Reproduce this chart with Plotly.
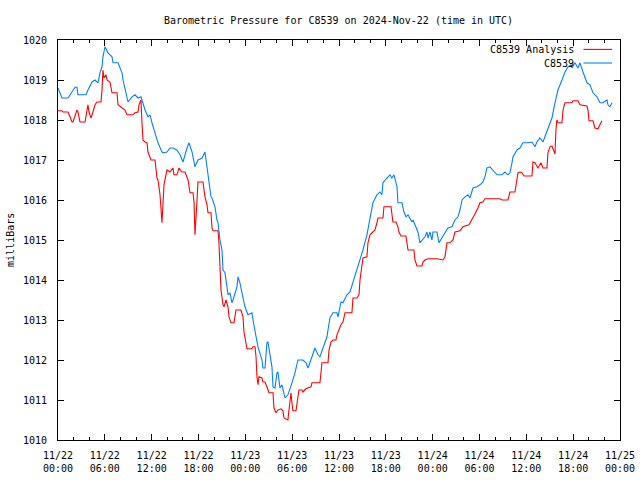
import plotly.graph_objects as go
import pandas as pd

# Hours after 2024-11-22 00:00 UTC and pressure (mb) for station observations (C8539)
obs_hours = [0, 0.51, 1.28, 1.54, 2.18, 2.43, 2.56, 3.59, 3.84, 4.36, 4.74, 5.12, 5.38, 5.64, 5.76, 6.02,
             6.41, 6.92, 7.05, 7.69, 8.2, 8.33, 8.58, 8.97, 9.48, 9.86, 10.25, 10.63, 10.76, 11.15, 11.53,
             11.79, 12.04, 12.43, 12.81, 13.32, 13.45, 13.96, 14.35, 14.73, 15.24, 15.63, 16.01, 16.53,
             16.78, 17.17, 17.55, 17.93, 18.45, 18.83, 19.09, 19.34, 19.6, 19.73, 20.11, 20.37, 20.5,
             20.75, 21.01, 21.14, 21.39, 21.65, 21.78, 22.03, 22.29, 22.42, 22.93, 23.06, 23.31, 23.57,
             23.95, 24.34, 24.85, 24.98, 25.24, 25.62, 26.13, 26.26, 26.52, 26.77, 26.9, 27.16, 27.41,
             27.54, 27.8, 28.05, 28.18, 28.44, 28.69, 29.08, 29.46, 29.97, 30.36, 30.74, 31.38, 31.77,
             32.03, 32.54, 32.92, 33.31, 33.56, 33.95, 34.46, 34.59, 34.84, 35.23, 35.74, 35.87, 36.25,
             36.51, 37.02, 37.41, 37.79, 38.3, 38.69, 39.07, 39.58, 39.97, 40.35, 40.86, 41.25, 41.5,
             41.63, 42.14, 42.53, 42.78, 43.04, 43.43, 43.55, 44.07, 44.32, 44.58, 44.84, 45.35, 45.48,
             45.73, 46.12, 46.37, 46.63, 47.01, 47.27, 47.4, 47.65, 47.91, 48.04, 48.55, 48.81, 49.19,
             49.58, 49.96, 50.47, 50.86, 51.24, 51.5, 51.76, 52.14, 52.52, 52.78, 53.16, 53.67, 54.06,
             54.44, 54.7, 54.95, 55.34, 55.72, 56.24, 56.88, 57.26, 57.65, 57.9, 58.16, 58.29, 58.8,
             59.18, 59.57, 60.21, 60.72, 61.1, 61.36, 61.74, 62.13, 62.39, 62.77, 63.28, 63.67, 64.05,
             64.57, 64.95, 65.34, 65.72, 65.85, 66.23, 66.62, 66.87, 67.26, 67.77, 68.15, 68.54, 69.05,
             69.43, 69.82, 70.33, 70.46, 70.71, 70.97]
obs_mb = [1018.8, 1018.55, 1018.55, 1018.63, 1018.82, 1018.82, 1018.63, 1018.63, 1018.75, 1018.95, 1019.0,
          1018.93, 1019.18, 1019.33, 1019.58, 1019.83, 1019.68, 1019.58, 1019.43, 1019.43, 1019.18, 1019.0,
          1018.8, 1018.45, 1018.58, 1018.63, 1018.55, 1018.58, 1018.5, 1018.25, 1018.08, 1018.13, 1017.93,
          1017.68, 1017.43, 1017.2, 1017.18, 1017.2, 1017.3, 1017.3, 1017.25, 1017.13, 1016.95, 1017.3,
          1017.43, 1017.2, 1016.83, 1017.0, 1017.05, 1017.2, 1016.83, 1016.5, 1016.08, 1016.05, 1015.83,
          1015.5, 1015.43, 1015.0, 1014.75, 1014.25, 1014.18, 1013.83, 1013.63, 1013.68, 1013.43, 1013.5,
          1013.83, 1014.08, 1013.93, 1013.68, 1013.33, 1013.13, 1013.18, 1013.0, 1012.75, 1012.33, 1012.0,
          1011.8, 1011.8, 1012.43, 1012.45, 1012.08, 1011.83, 1011.33, 1011.3, 1011.68, 1011.7, 1011.3,
          1011.38, 1011.05, 1011.13, 1011.43, 1011.68, 1012.0, 1012.0, 1011.93, 1011.8, 1012.08, 1012.3,
          1012.13, 1012.08, 1012.3, 1012.58, 1012.75, 1013.05, 1013.18, 1013.18, 1013.08, 1013.45, 1013.43,
          1013.63, 1013.7, 1013.93, 1014.25, 1014.5, 1014.75, 1015.13, 1015.5, 1015.93, 1016.13, 1016.2,
          1016.13, 1016.43, 1016.55, 1016.63, 1016.55, 1016.63, 1016.33, 1015.93, 1015.93, 1015.7, 1015.58,
          1015.63, 1015.45, 1015.5, 1015.38, 1015.2, 1014.93, 1015.0, 1015.08, 1015.2, 1015.05, 1015.2,
          1015.0, 1015.2, 1015.2, 1014.93, 1015.05, 1015.2, 1015.3, 1015.33, 1015.5, 1015.58, 1015.75,
          1016.0, 1016.08, 1016.13, 1016.05, 1016.3, 1016.33, 1016.38, 1016.45, 1016.58, 1016.8, 1016.83,
          1016.75, 1016.63, 1016.63, 1016.7, 1016.63, 1016.68, 1016.93, 1017.08, 1017.25, 1017.3, 1017.43,
          1017.43, 1017.45, 1017.33, 1017.45, 1017.55, 1017.45, 1017.58, 1017.75, 1018.05, 1018.43,
          1018.75, 1019.0, 1019.2, 1019.33, 1019.38, 1019.3, 1019.43, 1019.3, 1019.43, 1019.2, 1018.93,
          1018.88, 1018.68, 1018.58, 1018.43, 1018.43, 1018.5, 1018.38, 1018.33, 1018.43]

# Hours after 2024-11-22 00:00 UTC and pressure (mb) for the analysis (C8539 Analysis)
ana_hours = [0, 0.51, 0.64, 1.28, 1.54, 1.79, 1.92, 2.18, 2.43, 2.56, 2.82, 3.46, 3.71, 3.84, 3.97, 4.23,
             4.48, 4.74, 5.0, 5.51, 5.64, 5.76, 5.89, 6.15, 6.28, 6.66, 6.92, 7.56, 7.69, 8.58, 8.84, 9.61,
             9.86, 10.25, 10.38, 10.63, 10.76, 10.89, 11.15, 11.4, 11.53, 11.91, 12.43, 12.68, 12.81, 13.07,
             13.32, 13.45, 13.58, 13.83, 13.96, 14.35, 14.73, 14.86, 15.24, 15.5, 15.88, 16.27, 16.53,
             16.66, 16.91, 17.3, 17.43, 17.55, 17.81, 17.93, 18.57, 18.83, 19.09, 19.22, 19.6, 19.73,
             19.86, 20.5, 20.62, 20.75, 20.88, 21.14, 21.27, 21.52, 21.78, 21.91, 22.16, 22.55, 22.8,
             23.44, 23.7, 23.83, 24.08, 24.21, 24.85, 24.98, 25.24, 25.37, 25.49, 25.62, 25.75, 26.13,
             26.26, 26.52, 26.77, 27.03, 27.54, 27.67, 27.93, 28.18, 28.57, 28.82, 28.95, 29.33, 29.46,
             29.59, 29.85, 29.97, 30.1, 30.49, 30.74, 30.87, 31.26, 31.38, 31.77, 32.03, 32.41, 32.54,
             33.56, 33.82, 34.59, 34.72, 34.97, 35.23, 35.61, 35.74, 36.0, 36.25, 36.51, 36.77, 37.66,
             37.79, 38.3, 38.56, 38.69, 38.94, 39.07, 39.58, 39.71, 39.97, 40.35, 40.61, 40.86, 40.99,
             41.63, 41.76, 42.66, 42.78, 42.91, 43.3, 43.55, 43.68, 43.94, 44.58, 44.71, 44.84, 45.6,
             45.73, 45.99, 46.63, 46.76, 47.01, 47.4, 48.55, 49.32, 49.58, 49.83, 50.22, 50.6, 50.86,
             51.5, 51.76, 51.88, 52.65, 53.03, 53.42, 53.8, 54.06, 54.44, 54.7, 56.62, 56.88, 57.65,
             57.9, 58.54, 58.8, 58.93, 59.18, 59.44, 59.7, 60.72, 60.85, 61.1, 61.49, 61.87, 62.13,
             62.64, 62.77, 63.03, 63.28, 63.54, 63.67, 63.79, 63.92, 64.05, 64.57, 64.7, 64.95, 65.85,
             65.98, 66.62, 66.87, 67.77, 67.9, 68.03, 68.54, 68.79, 69.18, 69.43, 69.69]
ana_mb = [1018.23, 1018.23, 1018.2, 1018.2, 1018.08, 1017.95, 1017.95, 1018.13, 1018.25, 1018.2, 1017.95,
          1017.95, 1018.25, 1018.38, 1018.2, 1018.05, 1018.2, 1018.38, 1018.45, 1018.45, 1018.75, 1019.25,
          1019.05, 1019.13, 1019.0, 1018.95, 1018.68, 1018.68, 1018.38, 1018.25, 1018.13, 1018.13, 1018.18,
          1018.2, 1018.38, 1018.5, 1017.93, 1017.5, 1017.45, 1017.43, 1017.2, 1017.0, 1017.0, 1016.55,
          1016.5, 1016.13, 1015.43, 1016.13, 1016.38, 1016.63, 1016.75, 1016.7, 1016.8, 1016.63, 1016.63,
          1016.8, 1016.7, 1016.7, 1016.58, 1016.5, 1016.18, 1016.18, 1015.93, 1015.13, 1016.0, 1016.45,
          1016.45, 1016.08, 1015.88, 1015.68, 1015.68, 1015.3, 1015.23, 1015.23, 1014.93, 1014.25, 1013.75,
          1013.38, 1013.33, 1013.5, 1013.33, 1013.08, 1012.93, 1012.93, 1013.25, 1013.25, 1013.08, 1012.7,
          1012.43, 1012.28, 1012.28, 1012.33, 1012.33, 1012.08, 1011.58, 1011.38, 1011.58, 1011.55, 1011.45,
          1011.45, 1011.33, 1011.18, 1011.18, 1010.8, 1010.68, 1010.75, 1010.78, 1010.73, 1010.55, 1010.5,
          1010.5, 1010.75, 1011.18, 1010.93, 1010.73, 1010.73, 1011.08, 1011.25, 1011.25, 1011.2, 1011.28,
          1011.3, 1011.33, 1011.43, 1011.43, 1011.93, 1011.93, 1012.25, 1012.45, 1012.5, 1012.5, 1012.63,
          1012.75, 1012.88, 1012.95, 1013.18, 1013.18, 1013.55, 1013.55, 1013.63, 1014.0, 1014.3, 1014.55,
          1014.58, 1014.93, 1015.13, 1015.2, 1015.25, 1015.43, 1015.55, 1015.55, 1015.83, 1015.83, 1015.63,
          1015.45, 1015.45, 1015.33, 1015.2, 1015.1, 1015.1, 1014.95, 1014.75, 1014.75, 1014.5, 1014.35,
          1014.35, 1014.45, 1014.5, 1014.53, 1014.53, 1014.5, 1014.58, 1014.93, 1014.93, 1015.0, 1015.2,
          1015.23, 1015.3, 1015.33, 1015.38, 1015.5, 1015.65, 1015.8, 1015.93, 1015.95, 1016.03, 1016.03,
          1016.0, 1016.0, 1016.2, 1016.2, 1016.5, 1016.68, 1016.7, 1016.68, 1016.6, 1016.6, 1016.95,
          1016.93, 1016.8, 1016.93, 1016.8, 1016.8, 1017.18, 1017.33, 1017.35, 1017.18, 1017.15, 1017.75,
          1018.0, 1017.93, 1017.93, 1018.25, 1018.43, 1018.43, 1018.48, 1018.48, 1018.38, 1018.35, 1018.25,
          1017.98, 1017.98, 1017.8, 1017.78, 1017.88, 1017.98]

series_names = ["C8539 Analysis", "C8539"]
series_colors = ["#ff0000", "#0080ff"]

start = pd.Timestamp("2024-11-22 00:00")
obs_t = [start + pd.Timedelta(hours=h) for h in obs_hours]
ana_t = [start + pd.Timedelta(hours=h) for h in ana_hours]

FONT = "DejaVu Sans Mono"

fig = go.Figure()
fig.add_trace(go.Scatter(x=ana_t, y=ana_mb, mode="lines", name=series_names[0],
                         line=dict(color=series_colors[0], width=1.1)))
fig.add_trace(go.Scatter(x=obs_t, y=obs_mb, mode="lines", name=series_names[1],
                         line=dict(color=series_colors[1], width=1.1)))

# gnuplot-style legend: right-aligned text followed by a line sample
legend_rows = [0.9765, 0.9425]
for name, color, yy in zip(series_names, series_colors, legend_rows):
    fig.add_annotation(x=0.922, y=yy, xref="paper", yref="paper", text=name, showarrow=False,
                       xanchor="right", yanchor="middle", font=dict(family=FONT, size=10, color="black"))
    fig.add_shape(type="line", xref="paper", yref="paper", x0=0.935, x1=0.986, y0=yy, y1=yy,
                  line=dict(color=color, width=1.1))

# y-axis title placed as rotated text left of the tick labels
fig.add_annotation(x=-0.0855, y=0.5, xref="paper", yref="paper", text="milliBars", showarrow=False,
                   textangle=-90, xanchor="center", yanchor="middle",
                   font=dict(family=FONT, size=10, color="black"))

fig.update_layout(
    width=640, height=480,
    margin=dict(l=58, r=20, t=40, b=40, autoexpand=False),
    paper_bgcolor="white", plot_bgcolor="white",
    showlegend=False,
    font=dict(family=FONT, size=10, color="black"),
    title=dict(text="Barometric Pressure for C8539 on 2024-Nov-22 (time in UTC)",
               x=0.529, xanchor="center", y=0.958, yanchor="middle",
               font=dict(family=FONT, size=10, color="black")),
)
fig.update_xaxes(
    type="date", automargin=False,
    range=[start, start + pd.Timedelta(hours=72)],
    dtick=6 * 3600 * 1000, tick0=start,
    tickformat="%m/%d<br>%H:%M",
    ticks="inside", ticklen=6, tickcolor="black",
    minor=dict(dtick=2 * 3600 * 1000, ticks="inside", ticklen=3, tickcolor="black"),
    showline=True, linecolor="black", linewidth=1, mirror="ticks",
    showgrid=False, zeroline=False,
    ticklabelstandoff=6,
    tickfont=dict(family=FONT, size=10),
)
fig.update_yaxes(
    automargin=False,
    range=[1010, 1020], dtick=1, tick0=1010,
    ticks="inside", ticklen=6, tickcolor="black",
    showline=True, linecolor="black", linewidth=1, mirror="ticks",
    showgrid=False, zeroline=False,
    ticklabelstandoff=8,
    tickfont=dict(family=FONT, size=10),
)

fig.write_html("out.html", config={"displayModeBar": False, "staticPlot": True},
               post_script="document.body.style.margin='0px';")
